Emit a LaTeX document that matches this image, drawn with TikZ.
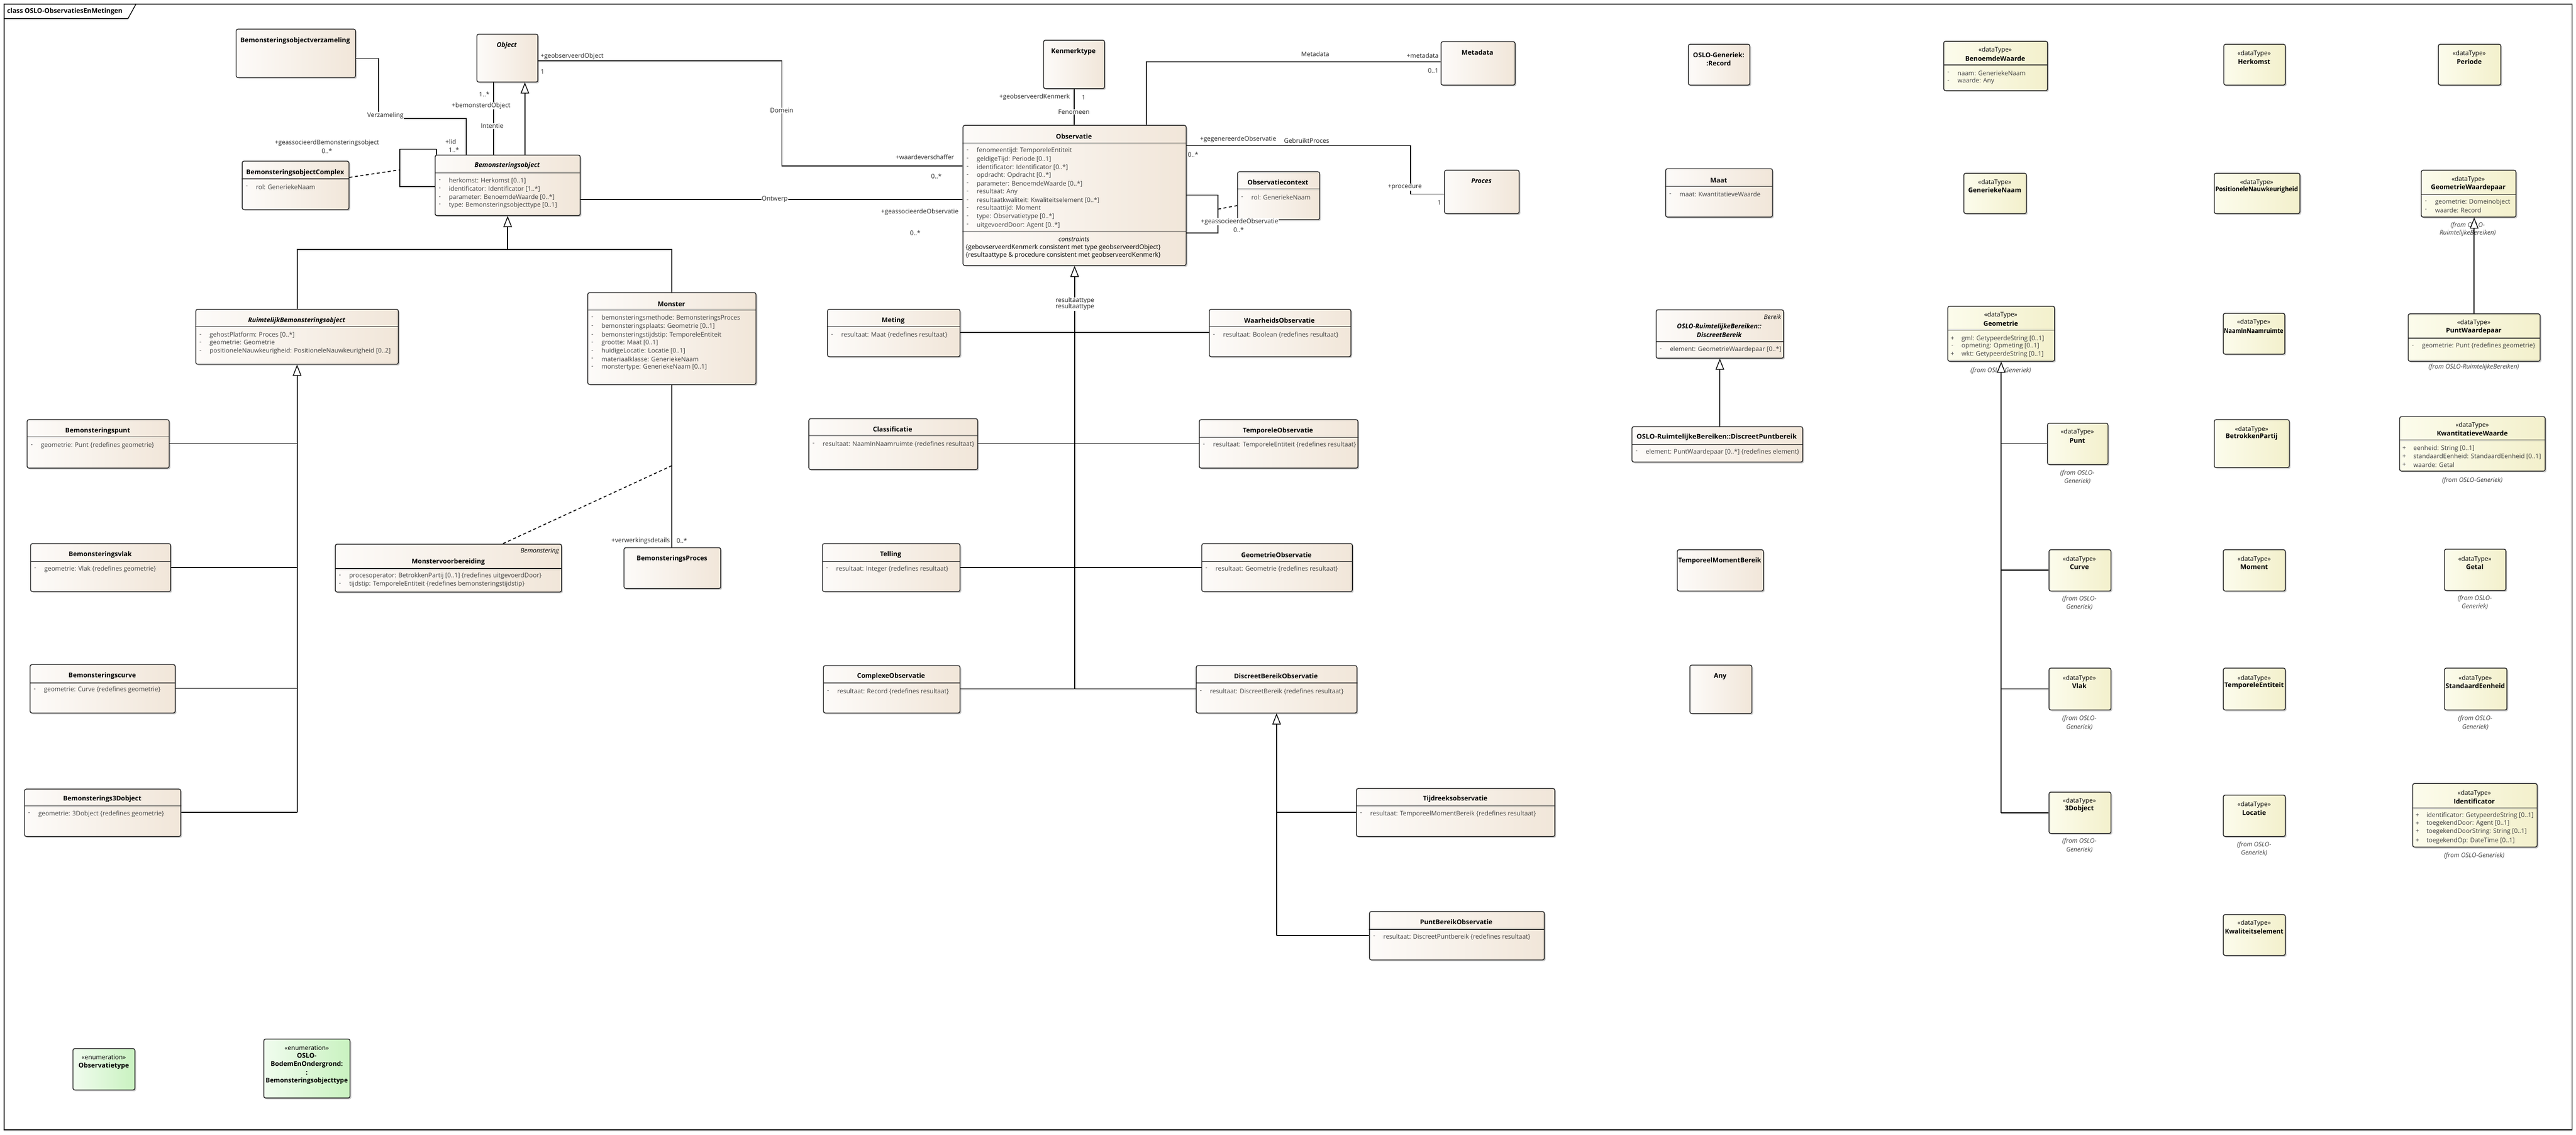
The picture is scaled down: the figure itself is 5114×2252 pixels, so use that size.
\documentclass[tikz,border=0pt]{standalone}
\usepackage{fontspec}
\setmainfont{Open Sans}
\usetikzlibrary{arrows.meta,shadows}
\definecolor{clsA}{HTML}{FDFBF9}
\definecolor{clsB}{HTML}{F1E6D9}
\definecolor{dtA}{HTML}{FCFCEC}
\definecolor{dtB}{HTML}{F3F0CC}
\definecolor{enA}{HTML}{F0FCEE}
\definecolor{enB}{HTML}{C9F2C0}
\definecolor{attc}{HTML}{404040}
\newcounter{tn}
\newcommand\T[3][]{\stepcounter{tn}\node[#1] (t\arabic{tn}) at (#2) {#3};}
\newcommand\A[4][-]{\T[att]{#2+10,#3}{#1}\T[att,anchor=west]{#2+28,#3}{#4}}
\newcommand\Sep[2]{\draw[sepl] (#1.west |- 0,#2) -- (#1.east |- 0,#2);}
\newcommand\fitw[2]{\resizebox{#1pt}{\height}{#2}}
\newcommand\cbox[6]{\pgfmathsetmacro\bw{#4-#2}\pgfmathsetmacro\bh{#5-#3}\node[#6, anchor=north west, minimum width=\bw pt, minimum height=\bh pt, inner sep=0pt] (#1) at (#2,#3) {};}
\tikzset{
 box/.style={draw=black!85, line width=1.6pt, rounded corners=3.5pt, drop shadow={shadow xshift=2.5pt,shadow yshift=-2.5pt,fill=black!40,opacity=0.5}},
 cls/.style={box, left color=clsA, right color=clsB},
 dt/.style={box, left color=dtA, right color=dtB},
 en/.style={box, left color=enA, right color=enB},
 ttl/.style={font={\fontsize{13}{15}\selectfont\bfseries}, inner sep=0pt},
 ttli/.style={font={\fontsize{13}{15}\selectfont\bfseries\itshape}, inner sep=0pt},
 st/.style={font={\fontsize{12.5}{14}\selectfont}, inner sep=0pt},
 sti/.style={font={\fontsize{12.5}{14}\selectfont\itshape}, inner sep=0pt},
 att/.style={font={\fontsize{12.5}{14}\selectfont}, text=attc, inner sep=0pt},
 lbl/.style={font={\fontsize{12.5}{14}\selectfont}, text=black!85, inner sep=1pt},
 lblw/.style={lbl, fill=white},
 frm/.style={font={\fontsize{12.5}{14}\selectfont\itshape}, text=black!75, inner sep=0pt},
 conn/.style={line width=1.8pt, draw=black},
 gen/.style={conn, -{Triangle[length=22pt, width=17pt, fill=white, line width=1.5pt]}},
 dsh/.style={conn, dash pattern=on 6pt off 5pt},
 sepl/.style={draw=black!85, line width=1.4pt},
}
\begin{document}
\begin{tikzpicture}[x=1pt,y=-1pt]
\useasboundingbox (0,0) rectangle (5114,2252);
\fill[white] (0,0) rectangle (5114,2252);
% frame
\draw[line width=1.5pt] (8,8) rectangle (5106,2242);
\draw[line width=1.5pt] (8,37) -- (254,37) -- (270,8);
\T[ttl,anchor=west]{14,23}{class OSLO-ObservatiesEnMetingen}

% ---------- boxes ----------
\cbox{verz}{468}{57}{705}{153}{cls}
\cbox{obj}{946}{67}{1067}{162}{cls}
\cbox{bo}{863}{307}{1151}{427}{cls}
\cbox{bocx}{480}{319}{692}{415}{cls}
\cbox{ken}{2071}{79}{2192}{175}{cls}
\cbox{obs}{1911}{248}{2354}{526}{cls}
\cbox{meta}{2860}{82}{3007}{168}{cls}
\cbox{proc}{2867}{337}{3015}{423}{cls}
\cbox{octx}{2456}{340}{2619}{435}{cls}
\cbox{rec}{3351}{87}{3473}{168}{cls}
\cbox{bw}{3858}{81}{4064}{179}{dt}
\cbox{herk}{4414}{87}{4536}{168}{dt}
\cbox{per}{4840}{87}{4964}{168}{dt}
\cbox{maat}{3306}{334}{3518}{430}{cls}
\cbox{gn}{3898}{343}{4022}{423}{dt}
\cbox{pn}{4395}{343}{4565}{423}{dt}
\cbox{gwp}{4806}{337}{4994}{430}{dt}
\cbox{db}{3287}{614}{3540}{710}{cls}
\cbox{geo}{3866}{607}{4078}{716}{dt}
\cbox{nin}{4413}{621}{4535}{702}{dt}
\cbox{pwp}{4780}{622}{5042}{716}{dt}
\cbox{dpb}{3239}{846}{3578}{916}{cls}
\cbox{punt}{4064}{839}{4184}{921}{dt}
\cbox{bp}{4395}{832}{4544}{927}{dt}
\cbox{kw}{4763}{826}{5052}{934}{dt}
\cbox{tmb}{3329}{1090}{3500}{1172}{cls}
\cbox{curve}{4067}{1090}{4190}{1172}{dt}
\cbox{mom}{4413}{1090}{4536}{1172}{dt}
\cbox{getal}{4852}{1089}{4974}{1171}{dt}
\cbox{any}{3354}{1319}{3477}{1415}{cls}
\cbox{vlak}{4067}{1325}{4190}{1408}{dt}
\cbox{te}{4413}{1325}{4536}{1408}{dt}
\cbox{se}{4852}{1325}{4976}{1408}{dt}
\cbox{obj3d}{4067}{1571}{4190}{1653}{dt}
\cbox{loc}{4413}{1577}{4536}{1659}{dt}
\cbox{ident}{4789}{1554}{5036}{1680}{dt}
\cbox{kwal}{4413}{1814}{4536}{1895}{dt}
\cbox{rbo}{388}{613}{790}{722}{cls}
\cbox{mon}{1166}{580}{1500}{762}{cls}
\cbox{bpunt}{53}{832}{335}{928}{cls}
\cbox{bvlak}{60}{1078}{338}{1173}{cls}
\cbox{mvb}{665}{1079}{1114}{1174}{cls}
\cbox{bproc}{1238}{1086}{1430}{1167}{cls}
\cbox{bcurve}{59}{1318}{347}{1414}{cls}
\cbox{bdrie}{48}{1565}{358}{1659}{cls}
\cbox{eobs}{144}{2080}{267}{2162}{en}
\cbox{ebot}{523}{2061}{694}{2178}{en}
\cbox{meting}{1642}{613}{1905}{707}{cls}
\cbox{waar}{2400}{613}{2681}{707}{cls}
\cbox{clas}{1605}{830}{1940}{931}{cls}
\cbox{tobs}{2380}{832}{2695}{928}{cls}
\cbox{tel}{1632}{1078}{1905}{1173}{cls}
\cbox{gobs}{2385}{1078}{2684}{1173}{cls}
\cbox{cobs}{1634}{1320}{1905}{1414}{cls}
\cbox{dbo}{2374}{1320}{2693}{1414}{cls}
\cbox{tijd}{2692}{1564}{3086}{1659}{cls}
\cbox{pbo}{2718}{1808}{3065}{1904}{cls}

% ---------- box contents ----------
\T[ttl]{586,81}{Bemonsteringsobjectverzameling}
\T[ttli]{1006,90}{Object}
\T[ttli]{1007,329}{Bemonsteringsobject}
\Sep{bo}{343}
\A{863}{359}{herkomst: Herkomst [0..1]}
\A{863}{375}{identificator: Identificator [1..*]}
\A{863}{392}{parameter: BenoemdeWaarde [0..*]}
\A{863}{407}{type: Bemonsteringsobjecttype [0..1]}
\T[ttl]{586,343}{BemonsteringsobjectComplex}
\Sep{bocx}{355}
\A{480}{371}{rol: GeneriekeNaam}
\T[ttl]{2131,102}{Kenmerktype}
\T[ttl]{2132,271}{Observatie}
\Sep{obs}{284}
\A{1911}{299}{fenomeentijd: TemporeleEntiteit}
\A{1911}{316}{geldigeTijd: Periode [0..1]}
\A{1911}{332}{identificator: Identificator [0..*]}
\A{1911}{348}{opdracht: Opdracht [0..*]}
\A{1911}{365}{parameter: BenoemdeWaarde [0..*]}
\A{1911}{381}{resultaat: Any}
\A{1911}{398}{resultaatkwaliteit: Kwaliteitselement [0..*]}
\A{1911}{414}{resultaattijd: Moment}
\A{1911}{430}{type: Observatietype [0..*]}
\A{1911}{447}{uitgevoerdDoor: Agent [0..*]}
\Sep{obs}{459}
\T[sti]{2132,475}{constraints}
\T[st,anchor=west]{1917,491}{\{gebovserveerdKenmerk consistent met type geobserveerdObject\}}
\T[st,anchor=west]{1917,507}{\{resultaattype \& procedure consistent met geobserveerdKenmerk\}}
\T[ttl]{2933,104}{Metadata}
\T[ttli]{2941,359}{Proces}
\T[ttl]{2537,362}{Observatiecontext}
\Sep{octx}{375}
\A{2456}{392}{rol: GeneriekeNaam}
\T[ttl]{3412,109}{OSLO-Generiek:}
\T[ttl]{3412,126}{:Record}
\T[st]{3961,100}{«dataType»}
\T[ttl]{3961,116}{BenoemdeWaarde}
\Sep{bw}{129}
\A{3858}{145}{naam: GeneriekeNaam}
\A{3858}{161}{waarde: Any}
\T[st]{4475,107}{«dataType»}
\T[ttl]{4475,122}{Herkomst}
\T[st]{4902,107}{«dataType»}
\T[ttl]{4902,122}{Periode}
\T[ttl]{3412,358}{Maat}
\Sep{maat}{370}
\A{3306}{386}{maat: KwantitatieveWaarde}
\T[st]{3960,362}{«dataType»}
\T[ttl]{3960,377}{GeneriekeNaam}
\T[st]{4480,362}{«dataType»}
\T[ttl]{4480,377}{\fitw{164}{PositioneleNauwkeurigheid}}
\T[st]{4900,356}{«dataType»}
\T[ttl]{4900,373}{GeometrieWaardepaar}
\Sep{gwp}{386}
\A{4806}{401}{geometrie: Domeinobject}
\A{4806}{417}{waarde: Record}
\T[sti,anchor=east]{3536,629}{Bereik}
\T[ttli]{3413,649}{OSLO-RuimtelijkeBereiken::}
\T[ttli]{3413,665}{DiscreetBereik}
\Sep{db}{678}
\A{3287}{694}{element: GeometrieWaardepaar [0..*]}
\T[st]{3972,625}{«dataType»}
\T[ttl]{3972,642}{Geometrie}
\Sep{geo}{655}
\A[+]{3866}{672}{gml: GetypeerdeString [0..1]}
\A{3866}{687}{opmeting: Opmeting [0..1]}
\A[+]{3866}{703}{wkt: GetypeerdeString [0..1]}
\T[st]{4474,640}{«dataType»}
\T[ttl]{4474,656}{\fitw{118}{NaamInNaamruimte}}
\T[st]{4911,641}{«dataType»}
\T[ttl]{4911,657}{PuntWaardepaar}
\Sep{pwp}{671}
\A{4780}{687}{geometrie: Punt \{redefines geometrie\}}
\T[ttl]{3408,868}{\fitw{318}{OSLO-RuimtelijkeBereiken::DiscreetPuntbereik}}
\Sep{dpb}{882}
\A{3239}{897}{element: PuntWaardepaar [0..*] \{redefines element\}}
\T[st]{4124,857}{«dataType»}
\T[ttl]{4124,875}{Punt}
\T[st]{4470,852}{«dataType»}
\T[ttl]{4470,867}{BetrokkenPartij}
\T[st]{4908,844}{«dataType»}
\T[ttl]{4908,860}{KwantitatieveWaarde}
\Sep{kw}{873}
\A[+]{4763}{890}{eenheid: String [0..1]}
\A[+]{4763}{906}{standaardEenheid: StandaardEenheid [0..1]}
\A[+]{4763}{922}{waarde: Getal}
\T[ttl]{3414,1113}{\fitw{165}{TemporeelMomentBereik}}
\T[st]{4128,1110}{«dataType»}
\T[ttl]{4128,1125}{Curve}
\T[st]{4475,1110}{«dataType»}
\T[ttl]{4475,1125}{Moment}
\T[st]{4913,1110}{«dataType»}
\T[ttl]{4913,1125}{Getal}
\T[ttl]{3415,1342}{Any}
\T[st]{4128,1346}{«dataType»}
\T[ttl]{4128,1361}{Vlak}
\T[st]{4475,1346}{«dataType»}
\T[ttl]{4475,1361}{\fitw{118}{TemporeleEntiteit}}
\T[st]{4914,1346}{«dataType»}
\T[ttl]{4914,1361}{\fitw{118}{StandaardEenheid}}
\T[st]{4128,1590}{«dataType»}
\T[ttl]{4128,1605}{3Dobject}
\T[st]{4475,1597}{«dataType»}
\T[ttl]{4475,1613}{Locatie}
\T[st]{4912,1574}{«dataType»}
\T[ttl]{4912,1590}{Identificator}
\Sep{ident}{1603}
\A[+]{4789}{1618}{identificator: GetypeerdeString [0..1]}
\A[+]{4789}{1634}{toegekendDoor: Agent [0..1]}
\A[+]{4789}{1650}{toegekendDoorString: String [0..1]}
\A[+]{4789}{1668}{toegekendOp: DateTime [0..1]}
\T[st]{4475,1832}{«dataType»}
\T[ttl]{4475,1848}{\fitw{116}{Kwaliteitselement}}
\T[ttli]{589,636}{RuimtelijkBemonsteringsobject}
\Sep{rbo}{648}
\A{388}{665}{gehostPlatform: Proces [0..*]}
\A{388}{681}{geometrie: Geometrie}
\A{388}{697}{positioneleNauwkeurigheid: PositioneleNauwkeurigheid [0..2]}
\T[ttl]{1333,603}{Monster}
\Sep{mon}{615}
\A{1166}{631}{bemonsteringsmethode: BemonsteringsProces}
\A{1166}{648}{bemonsteringsplaats: Geometrie [0..1]}
\A{1166}{665}{bemonsteringstijdstip: TemporeleEntiteit}
\A{1166}{681}{grootte: Maat [0..1]}
\A{1166}{697}{huidigeLocatie: Locatie [0..1]}
\A{1166}{713}{materiaalklasse: GeneriekeNaam}
\A{1166}{729}{monstertype: GeneriekeNaam [0..1]}
\T[ttl]{194,855}{Bemonsteringspunt}
\Sep{bpunt}{867}
\A{53}{884}{geometrie: Punt \{redefines geometrie\}}
\T[ttl]{199,1101}{Bemonsteringsvlak}
\Sep{bvlak}{1114}
\A{60}{1129}{geometrie: Vlak \{redefines geometrie\}}
\T[sti,anchor=east]{1110,1094}{Bemonstering}
\T[ttl]{890,1115}{Monstervoorbereiding}
\Sep{mvb}{1128}
\A{665}{1143}{procesoperator: BetrokkenPartij [0..1] \{redefines uitgevoerdDoor\}}
\A{665}{1159}{tijdstip: TemporeleEntiteit \{redefines bemonsteringstijdstip\}}
\T[ttl]{1334,1109}{BemonsteringsProces}
\T[ttl]{203,1341}{Bemonsteringscurve}
\Sep{bcurve}{1355}
\A{59}{1369}{geometrie: Curve \{redefines geometrie\}}
\T[ttl]{203,1586}{Bemonsterings3Dobject}
\Sep{bdrie}{1599}
\A{48}{1615}{geometrie: 3Dobject \{redefines geometrie\}}
\T[st]{206,2098}{«enumeration»}
\T[ttl]{206,2115}{Observatietype}
\T[st]{609,2079}{«enumeration»}
\T[ttl]{609,2095}{OSLO-}
\T[ttl]{609,2112}{BodemEnOndergrond:}
\T[ttl]{609,2129}{:}
\T[ttl]{609,2145}{\fitw{163}{Bemonsteringsobjecttype}}
\T[ttl]{1773,636}{Meting}
\Sep{meting}{648}
\A{1642}{665}{resultaat: Maat \{redefines resultaat\}}
\T[ttl]{2540,636}{WaarheidsObservatie}
\Sep{waar}{648}
\A{2400}{665}{resultaat: Boolean \{redefines resultaat\}}
\T[ttl]{1772,852}{Classificatie}
\Sep{clas}{865}
\A{1605}{881}{resultaat: NaamInNaamruimte \{redefines resultaat\}}
\T[ttl]{2537,855}{TemporeleObservatie}
\Sep{tobs}{868}
\A{2380}{883}{resultaat: TemporeleEntiteit \{redefines resultaat\}}
\T[ttl]{1768,1101}{Telling}
\Sep{tel}{1114}
\A{1632}{1129}{resultaat: Integer \{redefines resultaat\}}
\T[ttl]{2534,1101}{GeometrieObservatie}
\Sep{gobs}{1114}
\A{2385}{1129}{resultaat: Geometrie \{redefines resultaat\}}
\T[ttl]{1769,1342}{ComplexeObservatie}
\Sep{cobs}{1355}
\A{1634}{1372}{resultaat: Record \{redefines resultaat\}}
\T[ttl]{2533,1342}{DiscreetBereikObservatie}
\Sep{dbo}{1355}
\A{2374}{1372}{resultaat: DiscreetBereik \{redefines resultaat\}}
\T[ttl]{2889,1586}{Tijdreeksobservatie}
\Sep{tijd}{1599}
\A{2692}{1615}{resultaat: TemporeelMomentBereik \{redefines resultaat\}}
\T[ttl]{2891,1830}{PuntBereikObservatie}
\Sep{pbo}{1844}
\A{2718}{1859}{resultaat: DiscreetPuntbereik \{redefines resultaat\}}

% from labels
\T[frm]{4899,447}{(from OSLO-}
\T[frm]{4899,463}{RuimtelijkeBereiken)}
\T[frm]{3972,736}{(from OSLO-Generiek)}
\T[frm]{4911,729}{(from OSLO-RuimtelijkeBereiken)}
\T[frm]{4124,939}{(from OSLO-}
\T[frm]{4124,955}{Generiek)}
\T[frm]{4908,954}{(from OSLO-Generiek)}
\T[frm]{4128,1189}{(from OSLO-}
\T[frm]{4128,1205}{Generiek)}
\T[frm]{4913,1188}{(from OSLO-}
\T[frm]{4913,1204}{Generiek)}
\T[frm]{4128,1426}{(from OSLO-}
\T[frm]{4128,1443}{Generiek)}
\T[frm]{4914,1426}{(from OSLO-}
\T[frm]{4914,1443}{Generiek)}
\T[frm]{4128,1669}{(from OSLO-}
\T[frm]{4128,1686}{Generiek)}
\T[frm]{4475,1677}{(from OSLO-}
\T[frm]{4475,1693}{Generiek)}
\T[frm]{4912,1698}{(from OSLO-Generiek)}

% ---------- connectors ----------
% Verzameling
\draw[conn] (verz.east |- 0,116) -- (752,116) -- (752,235) -- (926,235) -- (bo.north -| 926,0);
\T[lblw]{765,229}{Verzameling}
\T[lbl]{895,281}{+lid}
\T[lbl]{901,298}{1..*}
% Intentie
\draw[conn] (obj.south -| 980,0) -- (bo.north -| 980,0);
\T[lbl,anchor=east]{973,187}{1..*}
\T[lblw]{955,210}{+bemonsterdObject}
\T[lblw]{977,250}{Intentie}
% generalization Bemonsteringsobject -> Object
\draw[gen] (bo.north -| 1042,0) -- (obj.south -| 1042,0);
% self association Bemonsteringsobject
\draw[conn] (bo.west |- 0,370) -- (794,370) -- (794,296) -- (866,296) -- (bo.north -| 866,0);
\draw[dsh] (bocx.east |- 0,352) -- (794,337);
\T[lbl]{649,284}{+geassocieerdBemonsteringsobject}
\T[lbl]{649,300}{0..*}
% Domein
\draw[conn] (obj.east |- 0,121) -- (1552,121) -- (1552,329) -- (obs.west |- 0,329);
\T[lbl,anchor=west]{1072,112}{+geobserveerdObject}
\T[lbl,anchor=west]{1072,142}{1}
\T[lblw]{1552,219}{Domein}
\T[lbl,anchor=east]{1895,312}{+waardeverschaffer}
\T[lbl]{1859,350}{0..*}
% Ontwerp
\draw[conn] (bo.east |- 0,396) -- (obs.west |- 0,396);
\T[lblw]{1538,395}{Ontwerp}
\T[lbl,anchor=east]{1904,421}{+geassocieerdeObservatie}
\T[lbl]{1817,462}{0..*}
% Fenomeen
\draw[conn] (ken.south) -- (ken.south |- obs.north);
\T[lbl,anchor=east]{2125,193}{+geobserveerdKenmerk}
\T[lbl]{2151,193}{1}
\T[lblw]{2132,222}{Fenomeen}
% Metadata
\draw[conn] (obs.north -| 2276,0) -- (2276,123) -- (meta.west |- 0,123);
\T[lbl]{2611,107}{Metadata}
\T[lbl,anchor=east]{2857,110}{+metadata}
\T[lbl,anchor=east]{2857,140}{0..1}
% GebruiktProces
\draw[conn] (obs.east |- 0,289) -- (2800,289) -- (2800,385) -- (proc.west |- 0,385);
\T[lbl]{2458,276}{+gegenereerdeObservatie}
\T[lbl]{2594,279}{GebruiktProces}
\T[lbl,anchor=west]{2357,307}{0..*}
\T[lblw]{2789,371}{+procedure}
\T[lbl,anchor=east]{2862,402}{1}
% Observatie self association
\draw[conn] (obs.east |- 0,387) -- (2418,387) -- (2418,462) -- (obs.east |- 0,462);
\draw[dsh] (2418,415) -- (octx.west |- 0,408);
\T[lblw]{2461,440}{+geassocieerdeObservatie}
\T[lbl]{2459,456}{0..*}
% generalization tree Bemonsteringsobject
\draw[conn] (rbo.north) -- (rbo.north |- 0,495) -- (mon.north |- 0,495) -- (mon.north);
\draw[gen] (bo.south |- 0,495) -- (bo.south);
% RuimtelijkBemonsteringsobject tree
\draw[gen] (rbo.south |- 0,1612) -- (rbo.south);
\draw[conn] (bpunt.east |- 0,880) -- (rbo.south |- 0,880);
\draw[conn] (bvlak.east |- 0,1126) -- (rbo.south |- 0,1126);
\draw[conn] (bcurve.east |- 0,1366) -- (rbo.south |- 0,1366);
\draw[conn] (bdrie.east |- 0,1612) -- (rbo.south |- 0,1612);
% Monster -> BemonsteringsProces
\draw[conn] (mon.south) -- (mon.south |- bproc.north);
\draw[dsh] (mon.south |- 0,924) -- (mvb.north -| 998,0);
\T[lbl,anchor=east]{1331,1073}{+verwerkingsdetails}
\T[lbl,anchor=west]{1342,1073}{0..*}
% Observatie tree
\draw[gen] (obs.south |- 0,1367) -- (obs.south);
\draw[conn] (meting.east |- 0,660) -- (waar.west |- 0,660);
\draw[conn] (clas.east |- 0,880) -- (tobs.west |- 0,880);
\draw[conn] (tel.east |- 0,1126) -- (gobs.west |- 0,1126);
\draw[conn] (cobs.east |- 0,1367) -- (dbo.west |- 0,1367);
\T[lblw]{2134,597}{resultaattype}
\T[lblw]{2134,609}{resultaattype}
% DiscreetBereikObservatie tree
\draw[gen] (dbo.south |- 0,1856) -- (dbo.south);
\draw[conn] (dbo.south |- 0,1612) -- (tijd.west |- 0,1612);
\draw[conn] (dbo.south |- 0,1856) -- (pbo.west |- 0,1856);
% DiscreetBereik
\draw[gen] (dpb.north -| db.south) -- (db.south);
% Geometrie tree
\draw[gen] (geo.south |- 0,1613) -- (geo.south);
\draw[conn] (geo.south |- 0,880) -- (punt.west |- 0,880);
\draw[conn] (geo.south |- 0,1131) -- (curve.west |- 0,1131);
\draw[conn] (geo.south |- 0,1367) -- (vlak.west |- 0,1367);
\draw[conn] (geo.south |- 0,1613) -- (obj3d.west |- 0,1613);
% PuntWaardepaar -> GeometrieWaardepaar
\draw[gen] (pwp.north) -- (pwp.north |- gwp.south);
\end{tikzpicture}
\end{document}
